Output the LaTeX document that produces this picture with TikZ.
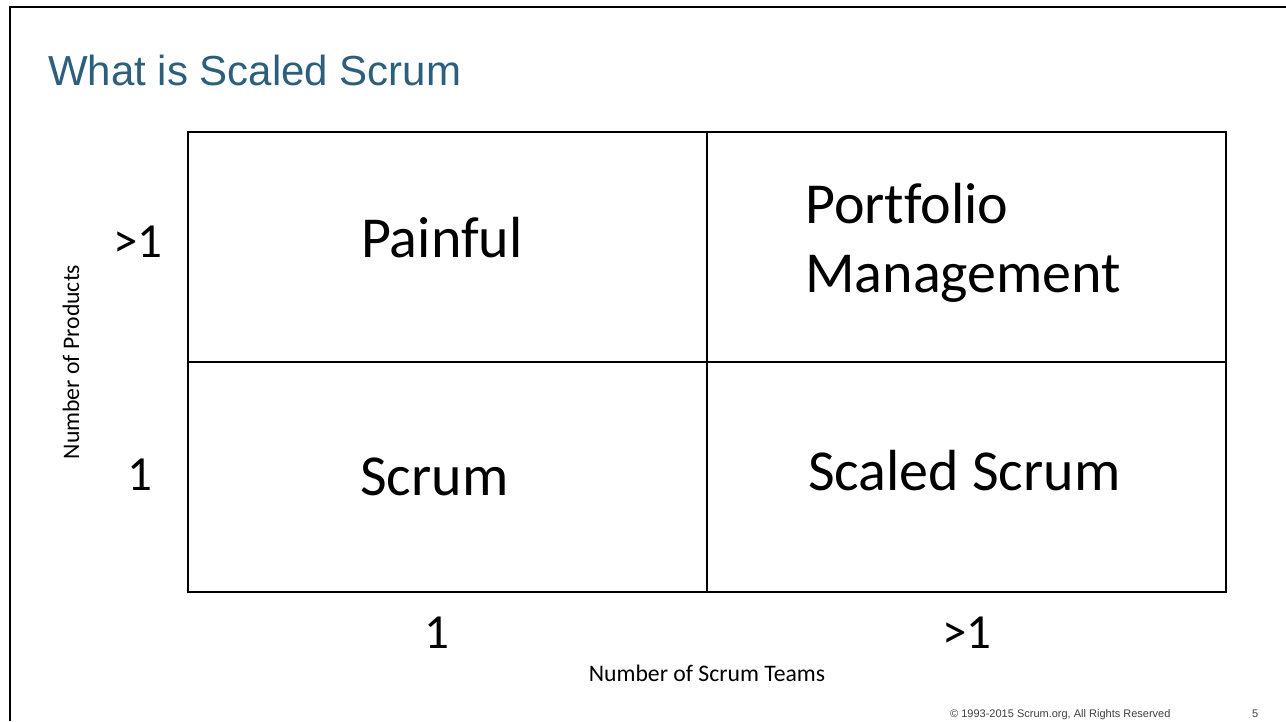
\documentclass[tikz,border=0pt]{standalone}
\usepackage{fontspec}
\setmainfont[Ligatures={NoCommon}]{Carlito}
\newfontfamily\arialf{Liberation Sans}
\definecolor{titleblue}{HTML}{2C5F7C}
\definecolor{footgray}{HTML}{404040}
\begin{document}
\begin{tikzpicture}[x=1pt,y=-1pt,
  cell/.style={draw=black,line width=1.2pt},
  big/.style={inner sep=0pt,anchor=base west,font=\fontsize{58}{70}\selectfont},
  axnum/.style={inner sep=0pt,anchor=base west,font=\fontsize{49}{58}\selectfont},
  axlabel/.style={inner sep=0pt,font=\fontsize{23.7}{28}\selectfont}]
\useasboundingbox (0,0) rectangle (1286,721);
\fill[white] (0,0) rectangle (1286,721);
% frame
\coordinate (fbl) at (10,721);
\coordinate (ftl) at (10,7);
\coordinate (ftr) at (1286,7);
\draw[line width=2pt,black] (fbl) -- (ftl) -- (ftr);
% title
\node[inner sep=0pt,anchor=base west,text=titleblue,font=\arialf\fontsize{42}{50}\selectfont] (title) at (48,85) {What is Scaled Scrum};
% grid
\coordinate (g00) at (188,132);
\coordinate (g11) at (1226,592);
\coordinate (gmt) at (707,132);
\coordinate (gmb) at (707,592);
\coordinate (gml) at (188,362);
\coordinate (gmr) at (1226,362);
\draw[cell] (g00) rectangle (g11);
\draw[cell] (gmt) -- (gmb);
\draw[cell] (gml) -- (gmr);
% cell texts
\node[big] (painful) at (361,257) {Painful};
\node[big] (portfolio) at (805,223) {Portfolio};
\node[big] (management) at (805,292) {Management};
\node[big] (scrum) at (360,495) {Scrum};
\node[big] (scaled) at (808,490) {Scaled Scrum};
% axis values
\node[axnum] (ygt) at (113,257) {>1};
\node[axnum] (yone) at (127,490) {1};
\node[axnum] (xone) at (424,648) {1};
\node[axnum] (xgt) at (942,648) {>1};
% axis labels
\node[axlabel,anchor=base] (xlab) at (707,681) {Number of Scrum Teams};
\node[axlabel,anchor=base,rotate=90] (ylab) at (79,362) {Number of Products};
% footer
\node[inner sep=0pt,anchor=base west,text=footgray,font=\arialf\fontsize{11}{13}\selectfont] (copy) at (950,717) {\textcopyright{} 1993-2015 Scrum.org, All Rights Reserved};
\node[inner sep=0pt,anchor=base west,text=footgray,font=\arialf\fontsize{11}{13}\selectfont] (page) at (1252,717) {5};
\end{tikzpicture}
\end{document}
